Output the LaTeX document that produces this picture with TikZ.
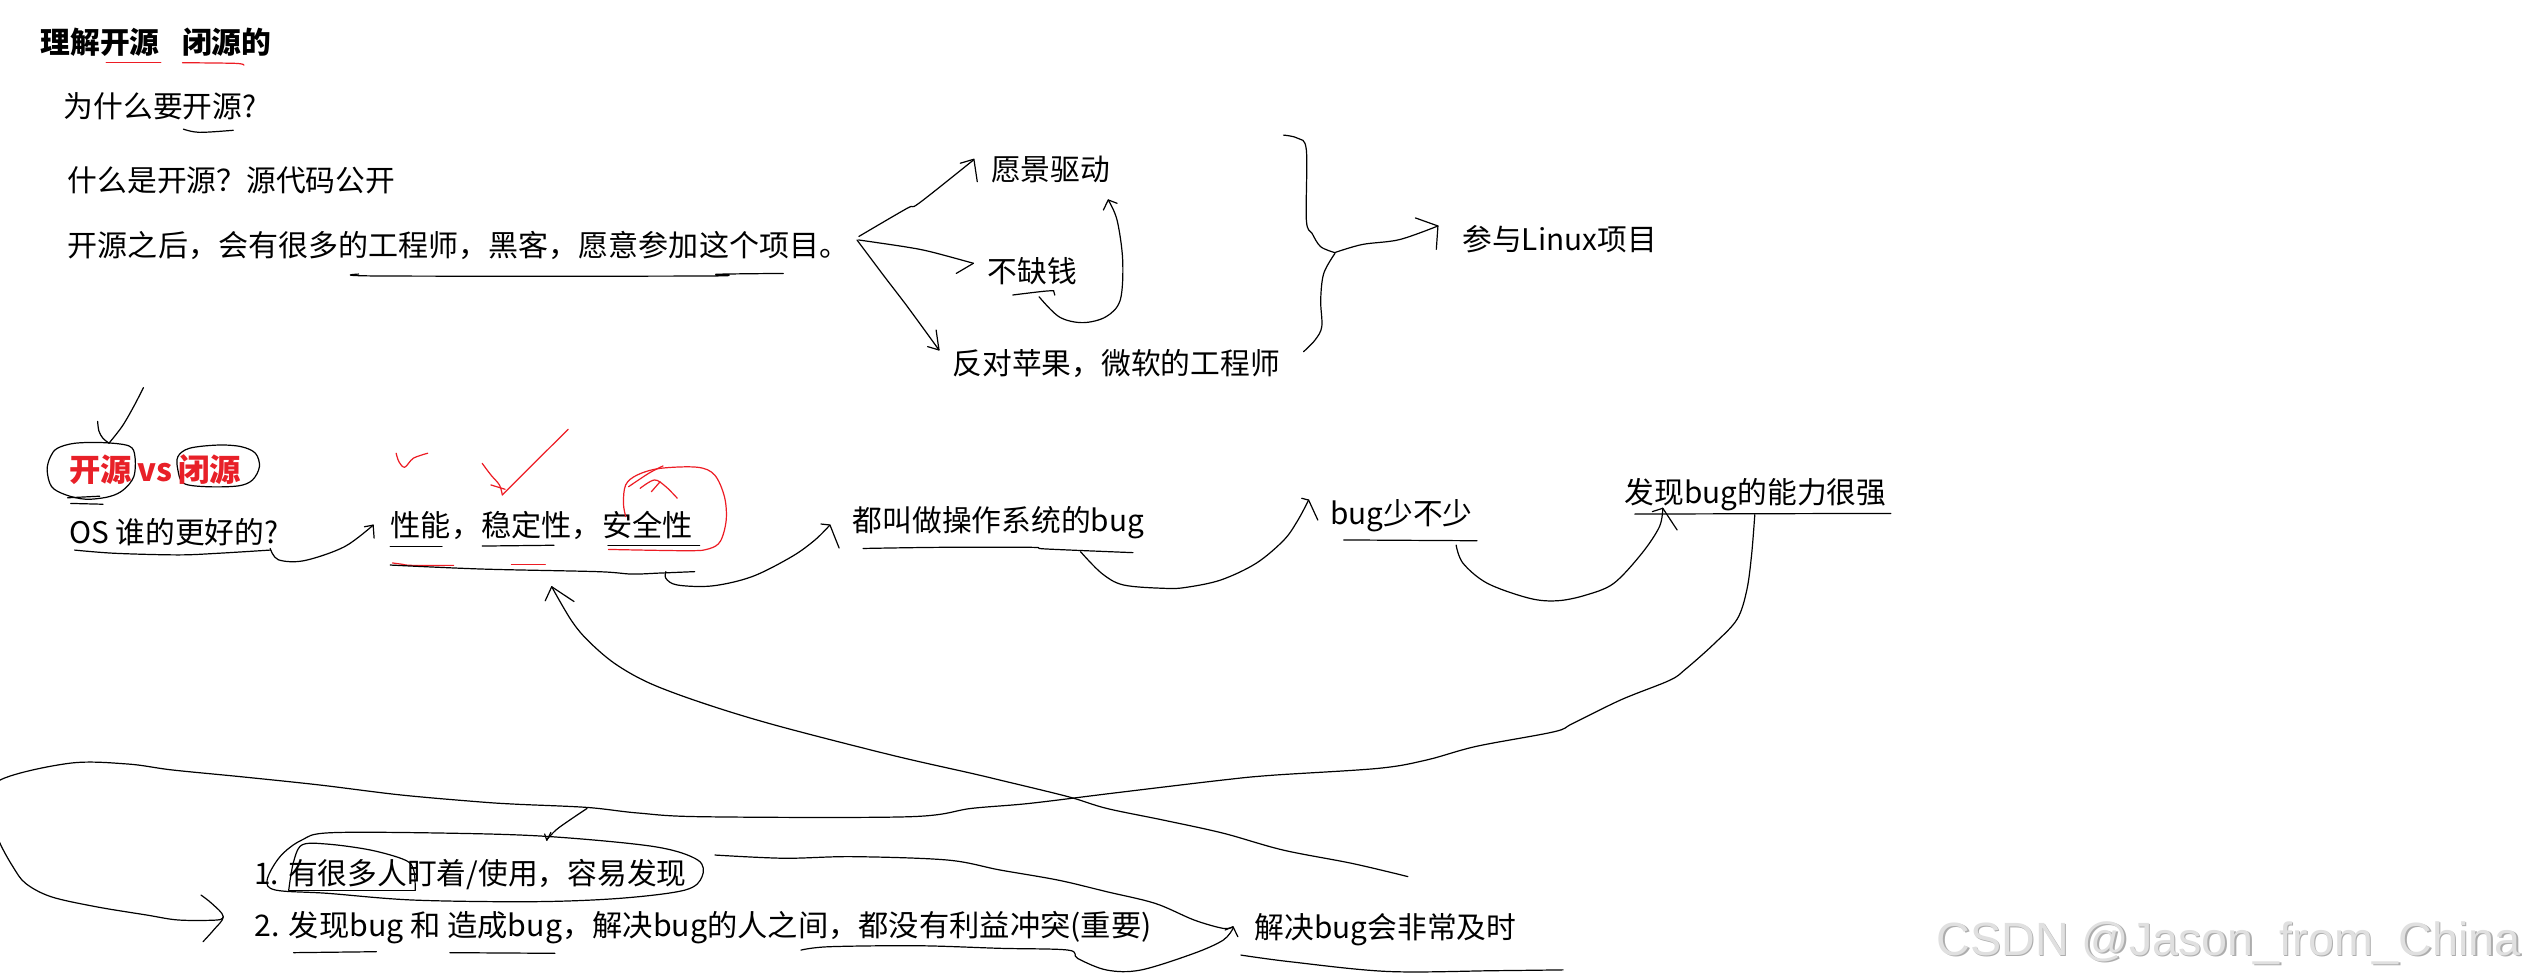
\documentclass[tikz,border=0pt]{standalone}
\usepackage{fontspec}
\setmainfont{Noto Sans CJK SC}
\newfontfamily\wmfont{Liberation Sans}
\definecolor{inkred}{RGB}{237,28,36}
\definecolor{txtred}{RGB}{232,32,40}
\tikzset{
  txt/.style={anchor=west, inner sep=0pt, font=\fontsize{18.5}{22}\selectfont, text height=16.3pt, text depth=2.2pt},
  boldtxt/.style={txt, font=\fontsize{18.5}{22}\selectfont\bfseries},
  ink/.style={line width=0.75pt, line cap=round, line join=round},
  redink/.style={ink, draw=inkred},
  sm/.style={smooth, tension=0.55},
}
\begin{document}
\begin{tikzpicture}[x=1pt,y=-1pt]
\useasboundingbox (0,0) rectangle (1568,609);
\clip (0,0) rectangle (1568,609);
\fill[white] (0,0) rectangle (1568,609);

% ---------- top block ----------
\node[boldtxt] (title) at (25,26) {理解开源\hspace{14pt}闭源的};
\draw[redink] (66,38.8) -- (100,38.8);
\draw[redink] plot[sm] coordinates {(113.5,39) (146.3,39.4) (151.7,40.5)};

\node[txt] (why) at (39.5,66.3) {为什么要开源?};
\draw[ink] plot[sm] coordinates {(114,80.3) (124,82.3) (145,81)};

\node[txt] (what) at (42,112) {什么是开源？源代码公开};
\node[txt, xscale=1.01] (after) at (42,152.3) {开源之后，会有很多的工程师，黑客，愿意参加这个项目。};
\draw[ink] plot[sm] coordinates {(223,170.4) (237.3,171.6) (439,171.6) (446,170.5) (487,170)};

% fork
\draw[ink] plot[sm] coordinates {(534,147) (564,129.5) (571.3,126.4) (605.2,99.5)};
\draw[ink] (597,101.5) -- (605.5,99) -- (607.6,113);
\draw[ink] plot[sm] coordinates {(533.8,149.2) (562.4,153.4) (578.5,156.5) (605.2,163.7)};
\draw[ink] (605.2,163.7) -- (594.5,170);
\draw[ink] plot[sm] coordinates {(532.8,149.2) (549.9,172) (564.2,190.7) (583.8,217.6)};
\draw[ink] (576.7,215.5) -- (583.8,217.6) -- (582,205.2);

\node[txt] (vision) at (616,105) {愿景驱动};
\node[txt] (money) at (614,168.4) {不缺钱};
\node[txt] (anti) at (592,226) {反对苹果，微软的工程师};
\node[txt] (linux) at (909,149) {参与Linux项目};

% curl from 不缺钱 up to 愿景驱动
\draw[ink] plot[sm] coordinates {(629.7,183.4) (648,181.2) (655,180.7)};
\draw[ink] (655,180.7) -- (655.8,183.5);
\draw[ink] plot[sm] coordinates {(646,184.5) (658.5,197) (673,200.6) (687.5,197) (696.5,186.5) (698,161.7) (694.5,136.8) (689,124.3)};
\draw[ink] (686,130.6) -- (689,124.3) -- (694.5,126.4);

% brace
\draw[ink] plot[sm] coordinates {(798,84) (806.9,86) (812.2,93.3) (812.2,136.8) (815.7,145) (821.1,153.4) (830,157.1)};
\draw[ink] plot[sm] coordinates {(830,157.5) (823,170) (821.1,186.5) (821.8,203) (817.6,211.4) (810.4,218.7)};
\draw[ink] plot[sm] coordinates {(830,157) (847,152) (870,149) (894,140.5)};
\draw[ink] (880,135.5) -- (894,140.5) -- (893,155);

% ---------- middle block ----------
\draw[ink] plot[sm] coordinates {(89.2,241) (83,253) (76,265) (67.8,275.5)};
\draw[ink] plot[sm] coordinates {(60.7,262) (61.5,268) (64,272.5) (67.8,275.5)};
\draw[ink] plot[smooth cycle, tension=0.55] coordinates {(35.7,278.7) (46.4,275.6) (64.2,275.2) (80.3,277.3) (83.9,283.9) (83.2,296.3) (76.7,304.6) (67.8,308.8) (53.5,310.4) (41,307.7) (32.1,302.6) (29.3,292.2) (31.4,283.9)};
\draw[ink] plot[smooth cycle, tension=0.55] coordinates {(110.6,283.9) (117.8,278.7) (135.6,276.7) (149.9,277.7) (158.8,281.8) (161.3,290.1) (157,298.4) (148.1,302.1) (128.5,302.6) (114.2,300.5) (110.6,292.2)};
\draw[ink] (42,309.5) -- (62,308.5);
\draw[ink] (44,313) -- (64,313.5);
\node[boldtxt, text=txtred, font=\fontsize{19.5}{23}\selectfont\bfseries] (ovc) at (43,292.6) {开源\hspace{3pt}vs\hspace{4pt}闭源};

\node[txt] (os) at (42.8,330.6) {OS 谁的更好的?};
\draw[ink] plot[sm] coordinates {(46.4,342) (71.5,344) (110.7,345) (135.5,344) (168,342)};
\draw[ink] plot[sm] coordinates {(168,341) (173,348) (189,348.6) (214,340) (232,326.5)};
\draw[ink] (226.6,327.5) -- (232,326.5) -- (232.6,334.6);

\node[txt, xscale=1.015] (perf) at (242.7,326.4) {性能，稳定性，安全性};
\draw[ink] (242.6,340) -- (274.8,340);
\draw[ink] (299.8,339.5) -- (344.5,339);
\draw[ink] (378,339) -- (435,339);
\draw[redink] plot[sm] coordinates {(244,350) (250,350.8) (256,351.5) (282,351.5)};
\draw[redink] (318,351) -- (339,351);
\draw[ink] plot[sm] coordinates {(242.6,351.3) (299.8,353.8) (371,355.4) (392.6,356.9) (410,356.3) (431.9,355.4)};

% red checks and circle
\draw[redink] plot[sm] coordinates {(246.3,281.8) (248,287) (251.6,290.5) (257,284.9) (265.9,281.8)};
\draw[redink] plot[sm] coordinates {(299.8,288.1) (305.2,295.3) (310.5,301.5) (312.3,307.7)};
\draw[redink] (312.3,307.7) -- (331.9,288.1) -- (353.3,266.9);
\draw[redink] (305.2,301.5) -- (314,304.2);
\draw[redink] plot[sm] coordinates {(378.3,341.6) (428.3,342.4) (440.8,341.2) (447.9,336.5) (451.5,323.3) (450.4,308.8) (444.3,295.3) (433.6,290.5) (410.4,291.2) (396.2,295.3) (389,301.5) (387.6,312.9) (389,321.2)};
\draw[redink] plot[sm] coordinates {(390.8,302.6) (403.3,294.3) (412.2,289.7)};
\draw[redink] plot[sm] coordinates {(398,303.6) (406.9,298.4) (414,302.6) (421.1,309.8)};
\draw[redink] (405,305.7) -- (410.4,299.5);

% arrow to 都叫做
\draw[ink] plot[sm] coordinates {(414,355.4) (414,359.6) (421,363.7) (442.7,364.3) (467.6,358.5) (492.4,346) (506.7,335.7) (516,326.4)};
\draw[ink] (510.4,325.8) -- (516,326.4) -- (521.7,340.7);

\node[txt] (bugs) at (530,323.3) {都叫做操作系统的bug};
\draw[ink] plot[sm] coordinates {(536.6,341) (584.4,340.3) (641.3,340.3) (650,341.3) (704.4,343.6)};
\draw[ink] plot[sm] coordinates {(671.8,343) (685,356.5) (698.5,363.7) (724.2,365.8) (737.3,365.2) (759,360.6) (781,350.2) (798.3,335.7) (807,323.3) (813.6,310.9)};
\draw[ink] (809.3,309.8) -- (813.6,310.9) -- (819.3,323.3);

\node[txt] (few) at (826.7,319) {bug少不少};
\draw[ink] (835.4,335.7) -- (918.3,336.2);
\draw[ink] plot[sm] coordinates {(905.3,338.9) (909.6,350.2) (924.8,362.7) (951,372) (968.4,373.5) (985.9,370) (1003.3,362.7) (1020.8,344) (1031.7,327.5) (1033.8,316)};
\draw[ink] (1027.3,318.1) -- (1033.8,316) -- (1042.7,329.5);

\node[txt] (find) at (1010,305.7) {发现bug的能力很强};
\draw[ink] (1016.4,319.6) -- (1175.6,319.2);

% long curve A
\draw[ink] plot[sm] coordinates {(1091,320) (1089,345) (1086,367) (1080,385) (1066,400) (1048,416) (1038,423) (1008,435) (978,449.7) (966,455) (918,464) (887,472.5) (857,477.7) (791,482) (760,485) (693,493) (640,499.5) (604,502.6) (565,507.8) (437.5,507.8) (397,505.5) (365,502) (321,500) (297.5,498.5) (248.7,494.2) (198.3,488) (150.7,483) (107,478.7) (79.3,475) (43.5,474.5) (0,485) (-12,503)};
\draw[ink] plot[sm] coordinates {(-6,508) (0,524.3) (8,538.8) (15.9,549.2) (31.7,557.5) (59.5,563.7) (91.2,568.9) (111,572) (135,572) (138.7,570)};
\draw[ink] plot[sm] coordinates {(125,556.5) (132,562) (138.8,569.9) (133,578) (126.2,585.5)};
\draw[ink] plot[sm] coordinates {(365,502.6) (354,510) (345.7,516) (340,522)};
\draw[ink] (338.6,518.5) -- (340,522.5) -- (342.5,517.5);

% long curve B
\draw[ink] plot[sm] coordinates {(343,364.8) (355,385.4) (365.3,398) (382,412.4) (404,424.8) (437.5,437.3) (481.8,450.8) (554,469.4) (604,480.8) (621.7,485) (664,495.3) (688,502.6) (722.9,509.8) (760.4,518) (797.7,528.5) (840.6,536.8) (875.3,545)};
\draw[ink] (339,373.5) -- (343,364.8) -- (356.9,374);

% ---------- bottom block ----------
\draw[ink] plot[smooth cycle, tension=0.55] coordinates {(206.3,517.7) (283.9,518.1) (342.8,520.2) (407,526.4) (433.8,534.7) (436.5,545) (425.8,553.4) (385.6,558.5) (332,560.6) (257.2,559.6) (203.6,555.4) (171.5,553.4) (166.1,547.1) (174.1,532.6) (187.6,522.3)};
\draw[ink] plot[sm] coordinates {(179.5,553.4) (181,543) (182.2,536.8) (187.6,525.4) (203.6,524.8) (230.4,528.5) (251.8,534.7) (257.2,541) (258.2,553.4)};
\draw[ink] (179.5,553.4) -- (258.2,553.4);

\node[txt] (one) at (158,543) {1. 有很多人盯着/使用，容易发现};
\node[txt, xscale=1.018] (two) at (158,575) {2. 发现bug 和 造成bug，解决bug的人之间，都没有利益冲突(重要)};
\draw[ink] (182.5,592.3) -- (234,591.7);
\draw[ink] (279.7,592.3) -- (345,592.7);

\draw[ink] plot[sm] coordinates {(444.5,531.6) (487.5,533.6) (530,532.6) (589,534.7) (621.7,540.9) (657.9,547.2) (688.1,554.4) (718.3,561.7) (742.4,572) (760.5,577.2) (766.6,576.2)};
\draw[ink] plot[sm] coordinates {(498,590.7) (515.7,588.6) (571,588) (621.7,589.6) (664,590.7) (670,595.9) (688.1,603.1) (709.2,603.1) (742.4,592.7) (760.5,584.5) (766.6,577.2)};
\draw[ink] (761.7,578.2) -- (766.6,576.2) -- (769.6,582.4);

\node[txt] (fix) at (780,576.2) {解决bug会非常及时};
\draw[ink] plot[sm] coordinates {(771.5,593.8) (802.7,598) (863,604) (929.5,603.5) (971.8,603)};

% watermark
\node[anchor=base west, inner sep=0pt, text=black!32, font=\wmfont\fontsize{29}{32}\selectfont] (wms) at (1204.8,594.6) {CSDN @Jason\_from\_China};
\node[anchor=base west, inner sep=0pt, text=black!12, font=\wmfont\fontsize{29}{32}\selectfont] (wm) at (1204,593.8) {CSDN @Jason\_from\_China};
\end{tikzpicture}
\end{document}
